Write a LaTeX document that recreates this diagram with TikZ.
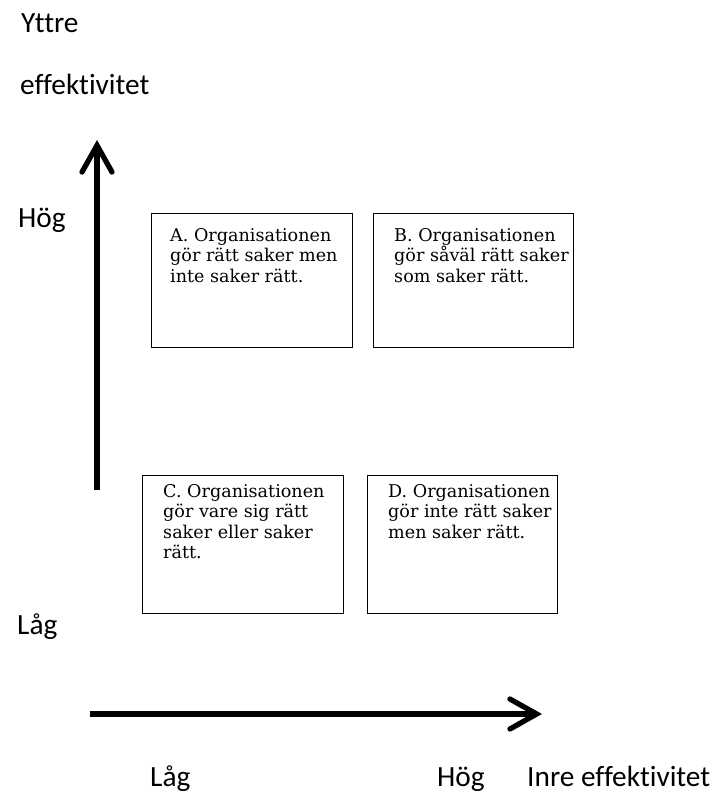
\documentclass[tikz,border=0pt]{standalone}
\usepackage{fontspec}
\setmainfont{DejaVu Serif}
\newfontfamily\axisfont[Ligatures=NoCommon]{Carlito}
\usetikzlibrary{arrows.meta}
\begin{document}
\begin{tikzpicture}[x=0.03cm, y=-0.03cm,
    axis/.style = {line width=4.5pt, -{Straight Barb[length=8mm, width=9mm, line cap=round]}},
    lbl/.style = {anchor=base west, inner sep=0pt, font=\axisfont\fontsize{25}{28}\selectfont},
    box/.style = {draw, line width=1pt, anchor=north west, inner sep=0pt},
    boxtext/.style = {anchor=north west, align=left, inner sep=0pt, font=\fontsize{15}{17.5}\selectfont}]
    \useasboundingbox (0,0) rectangle (719,794);
    % axis labels
    \node[lbl] (yttre) at (21,33) {Yttre};
    \node[lbl] (yeff) at (20,95) {effektivitet};
    \node[lbl] (yhog) at (18,228) {Hög};
    \node[lbl] (ylag) at (17,634) {Låg};
    \node[lbl] (xlag) at (150,786) {Låg};
    \node[lbl] (xhog) at (437,786) {Hög};
    \node[lbl] (xinre) at (527,786) {Inre effektivitet};
    % axes
    \coordinate (yfoot) at (97,490);
    \coordinate (ytip) at (97,140);
    \coordinate (xfoot) at (90,714);
    \coordinate (xtip) at (542,714);
    \draw[axis] (yfoot) -- (ytip);
    \draw[axis] (xfoot) -- (xtip);
    % boxes
    \node[box, minimum width=6.03cm, minimum height=4.02cm] (A) at (151,213) {};
    \node[box, minimum width=6.00cm, minimum height=4.02cm] (B) at (373,213) {};
    \node[box, minimum width=6.03cm, minimum height=4.14cm] (C) at (142,475) {};
    \node[box, minimum width=5.70cm, minimum height=4.14cm] (D) at (367,475) {};
    \node[boxtext] (Atext) at (170,228) {A.\ Organisationen\\gör rätt saker men\\inte saker rätt.};
    \node[boxtext] (Btext) at (394,228) {B. Organisationen\\gör såväl rätt saker\\som saker rätt.};
    \node[boxtext] (Ctext) at (163,484) {C. Organisationen\\gör vare sig rätt\\saker eller saker\\rätt.};
    \node[boxtext] (Dtext) at (388,484) {D. Organisationen\\gör inte rätt saker\\men saker rätt.};
\end{tikzpicture}
\end{document}
